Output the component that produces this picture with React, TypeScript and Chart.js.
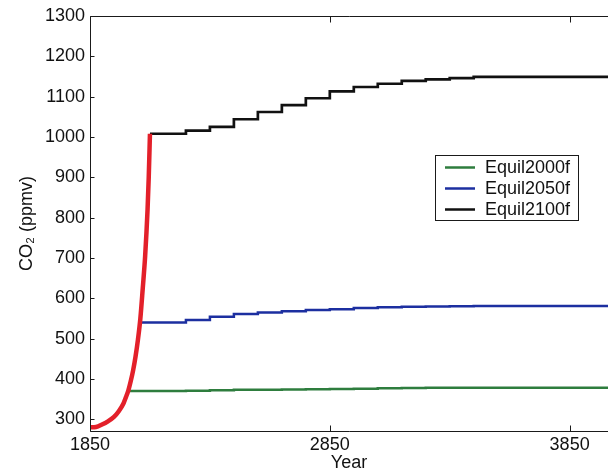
import React, { useEffect, useRef } from "react";
import { Chart, registerables } from "chart.js";

Chart.register(...registerables);

// ---- axes ----
const X_MIN = 1850;
const X_MAX = 4010;
const Y_MIN = 271;
const Y_MAX = 1300;
const X_TICKS = [1850, 2850, 3850];
const Y_TICKS = [300, 400, 500, 600, 700, 800, 900, 1000, 1100, 1200, 1300];
const X_TITLE = "Year";
const Y_TITLE = "CO\u2082 (ppmv)";

// ---- historical / emissions curve (red) ----
const HIST_YEARS = [1850, 1875, 1900, 1925, 1950, 1970, 1990, 2000, 2010, 2020, 2030, 2040, 2050, 2060, 2070, 2080, 2090, 2095, 2100];
const HIST_CO2 = [280, 281, 287, 295, 306, 320, 340, 355, 372, 395, 422, 456, 498, 550, 625, 705, 820, 901, 1008];

// ---- equilibrium scenarios (step series) ----
const STEP_YEARS = [2250, 2350, 2450, 2550, 2650, 2750, 2850, 2950, 3050, 3150, 3250, 3350, 3450];
const SERIES_LABELS = ["Equil2000f", "Equil2050f", "Equil2100f"];
const SERIES_START = [2008, 2057, 2100];
const EQ2000 = [370, 371, 372, 373, 373.5, 374, 374.5, 375, 376, 377, 377.5, 378, 378, 378];
const EQ2050 = [540, 546, 554, 561, 565, 568, 571, 573, 576, 578, 579, 580, 580.5, 581];
const EQ2100 = [1008, 1016, 1025, 1044, 1062, 1079, 1096, 1113, 1124, 1132, 1139, 1143, 1146, 1149];
const SERIES_COLORS = ["#2e7d3e", "#1c2fa0", "#111111"];
const HIST_COLOR = "#e3202a";

const FONT_FAMILY = "'Liberation Sans', Arial, Helvetica, sans-serif";

function stepPoints(start: number, vals: number[]) {
  const pts = [{ x: start, y: vals[0] }];
  STEP_YEARS.forEach((yr, i) => pts.push({ x: yr, y: vals[i + 1] }));
  pts.push({ x: X_MAX, y: vals[vals.length - 1] });
  return pts;
}

const framePlugin = {
  id: "matlabFrame",
  afterDatasetsDraw(chart: any) {
    const { ctx, chartArea: a, scales } = chart;
    ctx.save();
    ctx.strokeStyle = "#1a1a1a";
    ctx.lineWidth = 1;
    const L = Math.round(a.left) + 0.5;
    const T = Math.round(a.top) + 0.5;
    const B = Math.round(a.bottom) + 0.5;
    ctx.beginPath();
    ctx.moveTo(a.right + 2, T);
    ctx.lineTo(L, T);
    ctx.lineTo(L, B);
    ctx.lineTo(a.right + 2, B);
    ctx.stroke();
    // inward ticks
    ctx.beginPath();
    Y_TICKS.forEach((v) => {
      const py = Math.round(scales.y.getPixelForValue(v)) + 0.5;
      ctx.moveTo(L, py);
      ctx.lineTo(L + 4, py);
    });
    X_TICKS.forEach((v) => {
      const px = Math.round(scales.x.getPixelForValue(v)) + 0.5;
      ctx.moveTo(px, B);
      ctx.lineTo(px, B - 6);
      ctx.moveTo(px, T);
      ctx.lineTo(px, T + 6);
    });
    ctx.stroke();
    ctx.restore();
  },
  afterDraw(chart: any) {
    const { ctx } = chart;
    const items = chart.data.datasets.filter((d: any) => d.label);
    const bx = 435.5, by = 155.5, bw = 143, bh = 65;
    ctx.save();
    ctx.fillStyle = "#ffffff";
    ctx.fillRect(bx, by, bw, bh);
    ctx.strokeStyle = "#1a1a1a";
    ctx.lineWidth = 1;
    ctx.strokeRect(bx, by, bw, bh);
    ctx.font = `18px ${FONT_FAMILY}`;
    ctx.textBaseline = "middle";
    ctx.textAlign = "left";
    items.forEach((d: any, i: number) => {
      const y = 167.5 + i * 21;
      ctx.strokeStyle = d.borderColor;
      ctx.lineWidth = 2.5;
      ctx.beginPath();
      ctx.moveTo(445, y);
      ctx.lineTo(475, y);
      ctx.stroke();
      ctx.fillStyle = "#111";
      ctx.fillText(d.label, 485, y + 1);
    });
    ctx.restore();
  },
};

export default function App() {
  const ref = useRef<HTMLCanvasElement>(null);

  useEffect(() => {
    if (!ref.current) return;
    const font = { family: FONT_FAMILY, size: 18 };
    const chart = new Chart(ref.current, {
      type: "line",
      data: {
        datasets: [
          {
            label: "",
            data: HIST_YEARS.map((x, i) => ({ x, y: HIST_CO2[i] })),
            borderColor: HIST_COLOR,
            borderWidth: 4.5,
            cubicInterpolationMode: "monotone",
            pointRadius: 0,
          },
          {
            label: SERIES_LABELS[0],
            data: stepPoints(SERIES_START[0], EQ2000),
            borderColor: SERIES_COLORS[0],
            borderWidth: 2.5,
            stepped: "before",
            pointRadius: 0,
          },
          {
            label: SERIES_LABELS[1],
            data: stepPoints(SERIES_START[1], EQ2050),
            borderColor: SERIES_COLORS[1],
            borderWidth: 2.5,
            stepped: "before",
            pointRadius: 0,
          },
          {
            label: SERIES_LABELS[2],
            data: stepPoints(SERIES_START[2], EQ2100),
            borderColor: SERIES_COLORS[2],
            borderWidth: 2.7,
            stepped: "before",
            pointRadius: 0,
          },
        ] as any,
      },
      options: {
        responsive: false,
        animation: false,
        layout: { padding: { top: 16, left: 0, right: 0, bottom: 0 } },
        plugins: { legend: { display: false }, tooltip: { enabled: false } },
        scales: {
          x: {
            type: "linear",
            min: X_MIN,
            max: X_MAX,
            afterBuildTicks: (s: any) => {
              s.ticks = X_TICKS.map((v) => ({ value: v }));
            },
            afterFit: (s: any) => {
              s.height = 41;
            },
            grid: { display: false, drawTicks: false },
            border: { display: false },
            ticks: {
              color: "#111",
              font,
              padding: 3,
              maxRotation: 0,
              autoSkip: false,
              callback: (v: any) => String(v),
            },
            title: {
              display: true,
              text: X_TITLE,
              color: "#111",
              font: { family: FONT_FAMILY, size: 18, lineHeight: 1 },
              padding: { top: 0, bottom: 0 },
            },
          },
          y: {
            type: "linear",
            min: Y_MIN,
            max: Y_MAX,
            afterBuildTicks: (s: any) => {
              s.ticks = Y_TICKS.map((v) => ({ value: v }));
            },
            afterFit: (s: any) => {
              s.width = 90;
            },
            grid: { display: false, drawTicks: false },
            border: { display: false },
            ticks: {
              color: "#111",
              font,
              padding: 5,
              autoSkip: false,
              callback: (v: any) => String(v),
            },
            title: {
              display: true,
              text: Y_TITLE,
              color: "#111",
              font: { family: FONT_FAMILY, size: 18, lineHeight: 1.2 },
              padding: { top: 16, bottom: 0 },
            },
          },
        },
      } as any,
      plugins: [framePlugin],
    });
    return () => chart.destroy();
  }, []);

  return (
    <div style={{ position: "absolute", left: 0, top: 0, width: 608, height: 472, overflow: "hidden", background: "#fff" }}>
      <canvas ref={ref} width={608} height={472} style={{ display: "block" }} />
    </div>
  );
}
